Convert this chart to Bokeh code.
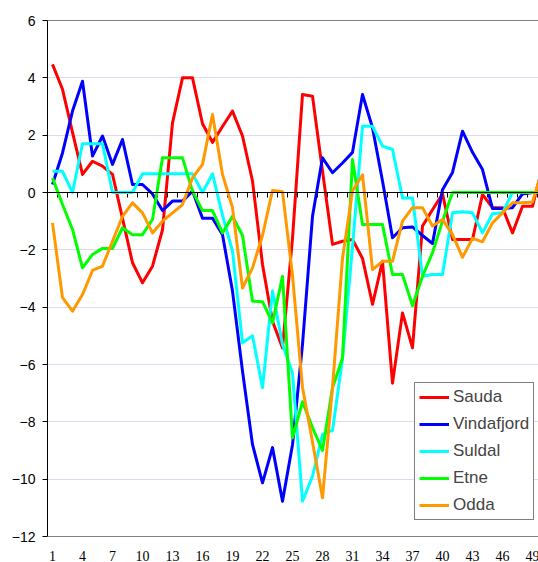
import math
from bokeh.plotting import figure
from bokeh.models import (LinearAxis, FixedTicker, Range1d, Grid, Span,
                          LabelSet, ColumnDataSource)
from bokeh.embed import file_html
from bokeh.resources import INLINE

weeks = list(range(1, 51))
x_tick_labels = list(range(1, 50, 3))
y_ticks = list(range(-12, 7, 2))

sauda = [4.47, 3.6, 2.1, 0.63, 1.09, 0.92, 0.63, -0.9, -2.45, -3.15,
         -2.57, -1.3, 2.43, 4.0, 4.0, 2.4, 1.75, 2.3, 2.84, 1.97,
         0.4, -2.51, -4.49, -5.42, -1.6, 3.42, 3.36, 0.75, -1.81, -1.7,
         -1.64, -2.3, -3.9, -2.4, -6.65, -4.2, -5.42, -1.17, -0.6, -0.05,
         -1.64, -1.64, -1.64, -0.07, -0.53, -0.53, -1.41, -0.48, -0.48, 0.9]
vindafjord = [0.28, 1.38, 2.84, 3.88, 1.27, 1.97, 0.98, 1.85, 0.28, 0.28,
              -0.05, -0.63, -0.3, -0.3, 0.05, -0.9, -0.9, -1.47, -3.44, -6.23,
              -8.79, -10.13, -8.9, -10.77, -8.8, -5.3, -0.83, 1.21, 0.69, 1.03,
              1.4, 3.42, 2.26, 0.4, -1.58, -1.23, -1.2, -1.5, -1.78, 0.1,
              0.7, 2.14, 1.4, 0.8, -0.56, -0.56, -0.53, -0.05, 0.0, 0.0]
suldal = [0.74, 0.74, 0.0, 1.7, 1.7, 1.7, 0.0, 0.0, 0.0, 0.65,
          0.65, 0.65, 0.65, 0.65, 0.65, 0.0, 0.65, -0.8, -2.05, -5.24,
          -5.0, -6.81, -3.44, -5.3, -6.3, -10.77, -9.9, -8.44, -8.3, -5.8,
          -1.9, 2.31, 2.31, 1.62, 1.5, -0.19, -0.19, -2.92, -2.86, -2.86,
          -0.71, -0.67, -0.71, -1.41, -0.74, -0.71, 0.0, 0.0, 0.0, 0.0]
etne = [0.51, -0.42, -1.29, -2.63, -2.16, -1.95, -1.95, -1.23, -1.47, -1.47,
        -0.94, 1.21, 1.21, 1.21, 0.05, -0.63, -0.63, -1.41, -0.83, -1.5,
        -3.79, -3.81, -4.55, -2.92, -8.56, -7.3, -8.2, -9.0, -6.81, -5.77,
        1.15, -1.12, -1.12, -1.12, -2.86, -2.86, -3.95, -2.92, -2.1, -1.0,
        0.0, 0.0, 0.0, 0.0, 0.0, 0.0, 0.0, 0.0, 0.0, 0.0]
odda = [-1.06, -3.67, -4.14, -3.56, -2.72, -2.57, -1.7, -0.83, -0.36, -0.71,
        -1.41, -1.0, -0.71, -0.42, 0.51, 0.98, 2.72, 0.63, -0.53, -3.33,
        -2.63, -1.5, 0.07, 0.03, -2.9, -6.8, -8.7, -10.65, -6.8, -2.3,
        0.05, 0.62, -2.69, -2.4, -2.4, -1.0, -0.53, -0.53, -1.17, -0.94,
        -1.47, -2.26, -1.6, -1.72, -1.06, -0.71, -0.36, -0.36, -0.33, 0.8]

series = [("Sauda", sauda, "#FF0000"),
          ("Vindafjord", vindafjord, "#0000FF"),
          ("Suldal", suldal, "#00FFFF"),
          ("Etne", etne, "#00FF00"),
          ("Odda", odda, "#FF9900")]

FONT = "Liberation Sans"
Y_MIN, Y_MAX = y_ticks[0], y_ticks[-1]
PX_PER_UNIT = 516 / (Y_MAX - Y_MIN)          # plot area: 516 px for the value span
BOTTOM_PAD = 26 / PX_PER_UNIT                # room for the category labels

p = figure(width=538, height=562, output_backend="svg", toolbar_location=None,
           x_range=Range1d(0.5, 49.6),
           y_range=Range1d(Y_MIN - BOTTOM_PAD, Y_MAX),
           min_border_left=47, min_border_right=0, min_border_top=20,
           min_border_bottom=0, x_axis_location=None, y_axis_location=None)
p.background_fill_color = "white"
p.border_fill_color = "white"
p.outline_line_color = None
p.grid.visible = False

# horizontal grid
grid = Grid(dimension=1,
            ticker=FixedTicker(ticks=[t for t in y_ticks if t not in (Y_MIN, 0, Y_MAX)]),
            grid_line_color="#dadaf4", grid_line_width=1)
p.add_layout(grid)

# plot-area border (top and bottom)
top_border = LinearAxis(ticker=FixedTicker(ticks=[]))
top_border.axis_line_color = "#808080"
top_border.major_tick_line_color = None
top_border.minor_tick_line_color = None
p.add_layout(top_border, "above")
p.add_layout(Span(location=Y_MIN, dimension="width", line_color="#808080", line_width=1))

# y axis
yax = LinearAxis(ticker=FixedTicker(ticks=y_ticks), bounds=(Y_MIN, Y_MAX))
yax.axis_line_color = "black"
yax.major_tick_line_color = "black"
yax.major_tick_out = 5
yax.major_tick_in = 0
yax.minor_tick_line_color = None
yax.major_label_standoff = 7
yax.major_label_text_font = FONT
yax.major_label_text_font_size = "14px"
yax.major_label_text_color = "black"
p.add_layout(yax, "left")

# category labels under the plot area
lab_src = ColumnDataSource(dict(x=x_tick_labels,
                                y=[Y_MIN] * len(x_tick_labels),
                                t=[str(v) for v in x_tick_labels]))
p.add_layout(LabelSet(x="x", y="y", text="t", source=lab_src,
                      y_offset=-14, text_align="center", text_baseline="top",
                      text_font=FONT, text_font_size="14px", text_color="black"))

# category axis crossing at zero, with tick marks between categories
p.add_layout(Span(location=0, dimension="width", line_color="black", line_width=1))
bounds = [w - 0.5 for w in weeks]
p.ray(x=bounds, y=[0] * len(bounds), length=5, length_units="screen",
      angle=-math.pi / 2, line_color="black", line_width=1)

for name, vals, color in series:
    p.line(weeks, vals, line_color=color, line_width=3, line_join="round",
           legend_label=name)

lg = p.legend[0]
lg.location = (367, 42)
lg.border_line_color = "black"
lg.border_line_width = 1
lg.background_fill_color = "white"
lg.background_fill_alpha = 1
lg.label_text_font = FONT
lg.label_text_font_size = "17px"
lg.glyph_width = 30
lg.glyph_height = 20
lg.label_height = 20
lg.label_standoff = 4
lg.spacing = 7
lg.padding = 4
lg.margin = 0

open("out.html", "w").write(file_html(p, INLINE))
